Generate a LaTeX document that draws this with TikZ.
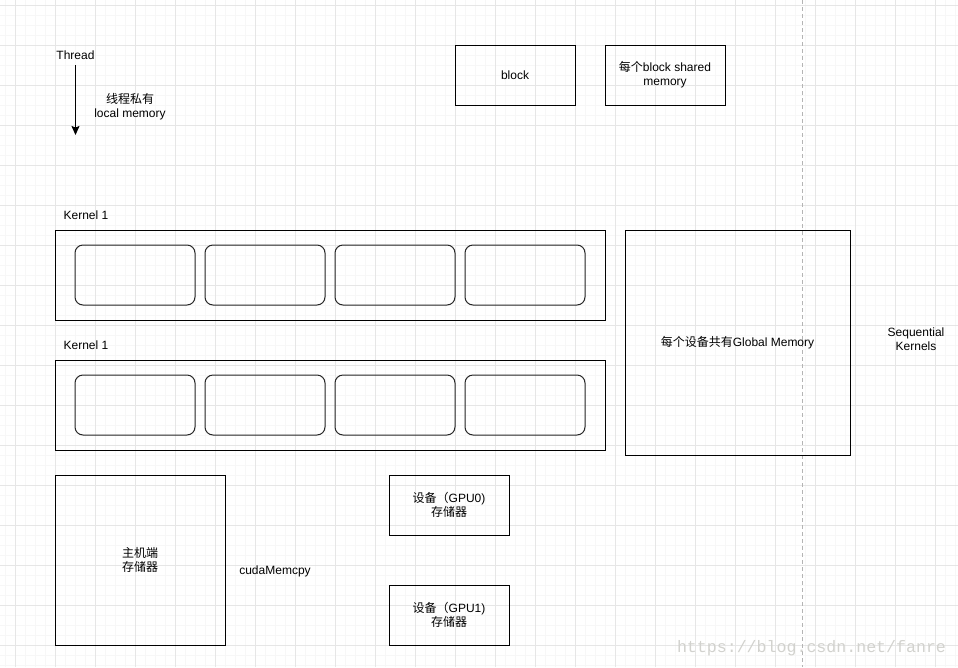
\documentclass[tikz,border=0pt]{standalone}
\usepackage{fontspec}
\setmainfont{Liberation Sans}
\newfontfamily\cjk{Noto Sans CJK SC}
\newfontfamily\wmfont{Liberation Mono}
\usetikzlibrary{arrows.meta}
\definecolor{gridminor}{HTML}{F7F7F7}
\definecolor{gridmajor}{HTML}{E6E6E6}
\definecolor{dashgray}{HTML}{B4B4B4}
\definecolor{wmgray}{HTML}{D2D2CE}
\begin{document}
\begin{tikzpicture}[x=1pt,y=-1pt,
  lbl/.style={font=\fontsize{12}{14}\selectfont, align=center, inner sep=1pt},
  box/.style={draw=black, line width=1pt, inner sep=0pt, font=\fontsize{12}{14}\selectfont, align=center},
  blk/.style={draw=black!85, line width=1pt, rounded corners=8pt, inner sep=0pt, minimum width=120pt, minimum height=60pt},
  arr/.style={-{Stealth[length=9pt,width=8pt,inset=1.5pt]}, line width=1pt}]
\useasboundingbox (0,0) rectangle (958,667);
\fill[white] (0,0) rectangle (958,667);
% grid
\foreach \x in {5,15,...,955} \draw[gridminor, line width=1pt] (\x,0) -- (\x,667);
\foreach \y in {5,15,...,665} \draw[gridminor, line width=1pt] (0,\y) -- (958,\y);
\foreach \x in {15,55,...,935} \draw[gridmajor, line width=1pt] (\x,0) -- (\x,667);
\foreach \y in {5,45,...,645} \draw[gridmajor, line width=1pt] (0,\y) -- (958,\y);
% dashed separator
\draw[dashgray, line width=1pt, dash pattern=on 4pt off 3pt] (802,0) -- (802,667);

% thread
\node[lbl] (thread) at (75.5,55.5) {Thread};
\coordinate (tend) at (75.5,135);
\draw[arr, shorten <=4pt] (thread) -- (tend);
\node[lbl] (local) at (130,106.5) {{\cjk 线程私有}\\local memory};

% block boxes
\node[box, minimum width=120pt, minimum height=60pt] (block) at (515,75) {block};
\node[box, minimum width=120pt, minimum height=60pt] (shared) at (665,75) {{\cjk 每个}block shared\\memory};

% kernel 1
\node[lbl] (k1lbl) at (86,215.5) {Kernel 1};
\node[box, minimum width=550pt, minimum height=90pt] (k1) at (330,275) {};
\node[blk] (k1a) at (135,275) {};
\node[blk] (k1b) at (265,275) {};
\node[blk] (k1c) at (395,275) {};
\node[blk] (k1d) at (525,275) {};

% kernel 2
\node[lbl] (k2lbl) at (86,345.5) {Kernel 1};
\node[box, minimum width=550pt, minimum height=90pt] (k2) at (330,405) {};
\node[blk] (k2a) at (135,405) {};
\node[blk] (k2b) at (265,405) {};
\node[blk] (k2c) at (395,405) {};
\node[blk] (k2d) at (525,405) {};

% global memory
\node[box, minimum width=225pt, minimum height=225pt] (global) at (737.5,342.5) {{\cjk 每个设备共有}Global Memory};
\node[lbl] (seq) at (916,339.5) {Sequential\\Kernels};

% host & devices
\node[box, minimum width=170pt, minimum height=170pt] (host) at (140,560) {{\cjk 主机端}\\{\cjk 存储器}};
\node[lbl] (memcpy) at (275,571.5) {cudaMemcpy};
\node[box, minimum width=120pt, minimum height=60pt] (gpu0) at (449,505) {{\cjk 设备（}GPU0)\\{\cjk 存储器}};
\node[box, minimum width=120pt, minimum height=60pt] (gpu1) at (449,615) {{\cjk 设备（}GPU1)\\{\cjk 存储器}};

% watermark
\node[text=wmgray, font=\wmfont\fontsize{16.6}{18}\selectfont, inner sep=0pt] (wm) at (811.5,648) {https://blog.csdn.net/fanre};
\end{tikzpicture}
\end{document}
